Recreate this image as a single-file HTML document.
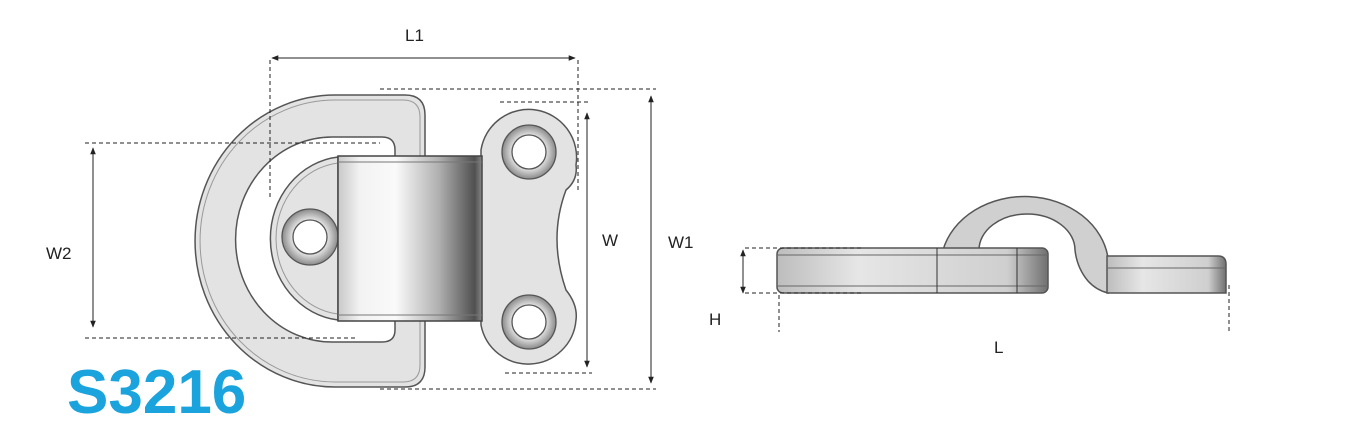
<!DOCTYPE html>
<html><head><meta charset="utf-8"><style>
html,body{margin:0;padding:0;background:#fff;width:1366px;height:432px;overflow:hidden}
svg{display:block}
text{font-family:"Liberation Sans",sans-serif}
</style></head><body>
<svg width="1366" height="432" viewBox="0 0 1366 432" xmlns="http://www.w3.org/2000/svg">
<defs>
<linearGradient id="cyl" x1="0" x2="1" y1="0" y2="0">
<stop offset="0" stop-color="#c8c8c8"/><stop offset="0.15" stop-color="#f2f2f2"/><stop offset="0.4" stop-color="#fafafa"/><stop offset="0.7" stop-color="#b0b0b0"/><stop offset="0.95" stop-color="#505050"/><stop offset="1" stop-color="#888"/>
</linearGradient>
<linearGradient id="bar" x1="0" x2="1" y1="0" y2="0">
<stop offset="0" stop-color="#bdbdbd"/><stop offset="0.3" stop-color="#e6e6e6"/><stop offset="0.85" stop-color="#cfcfcf"/><stop offset="1" stop-color="#707070"/>
</linearGradient>
<radialGradient id="ring"><stop offset="0.6" stop-color="#e8e8e8"/><stop offset="1" stop-color="#8a8a8a"/></radialGradient>
<marker id="ar" viewBox="0 0 10 10" refX="9" refY="5" markerWidth="7" markerHeight="7" orient="auto-start-reverse"><path d="M0,1 L10,5 L0,9 z" fill="#222"/></marker>
</defs>

<path d="M335,95 L405,95 Q425,95 425,115 L425,367 Q425,387 405,387 L335,387 A140,146 0 0 1 335,95 Z" fill="#e3e3e3" stroke="#555" stroke-width="1.5"/>
<path d="M335,100 L403,100 Q420,100 420,117 L420,365 Q420,382 403,382 L335,382 A135,141 0 0 1 335,100 Z" fill="none" stroke="#999" stroke-width="1"/>
<path d="M332,137 L382,137 Q395,137 395,150 L395,330 Q395,342 382,342 L332,342 A96,102 0 0 1 332,137 Z" fill="#fff" stroke="#555" stroke-width="1.5"/>
<path d="M338,157 L338,320 A76,82 0 0 1 338,157 Z" fill="#e3e3e3" stroke="#555" stroke-width="1.5"/>
<path d="M338,163 L338,314 A70,76 0 0 1 338,163 Z" fill="none" stroke="#999" stroke-width="1"/>
<circle cx="310" cy="237" r="28" fill="url(#ring)" stroke="#555" stroke-width="1.3"/>
<circle cx="310" cy="237" r="17" fill="#fff" stroke="#555" stroke-width="1.3"/>
<path d="M481,150 A48,48 0 0 1 576,165 Q578,180 566,190 Q548,238 566,290 Q578,305 576,320 A48,48 0 0 1 481,325 Z" fill="#e3e3e3" stroke="#555" stroke-width="1.5"/>
<circle cx="529" cy="152" r="27" fill="url(#ring)" stroke="#555" stroke-width="1.3"/>
<circle cx="529" cy="152" r="17" fill="#fff" stroke="#555" stroke-width="1.3"/>
<circle cx="529" cy="322" r="27" fill="url(#ring)" stroke="#555" stroke-width="1.3"/>
<circle cx="529" cy="322" r="17" fill="#fff" stroke="#555" stroke-width="1.3"/>
<rect x="338" y="156" width="144" height="165" fill="url(#cyl)" stroke="#444" stroke-width="1.5"/>
<line x1="338" y1="162" x2="482" y2="162" stroke="#777"/>
<line x1="338" y1="315" x2="482" y2="315" stroke="#777"/>

<g stroke="#222" stroke-width="1" fill="none" stroke-dasharray="4,3">
<line x1="270" y1="60" x2="270" y2="200"/>
<line x1="578" y1="60" x2="578" y2="192"/>
<line x1="85" y1="143" x2="380" y2="143"/>
<line x1="85" y1="338" x2="355" y2="338"/>
<line x1="500" y1="102" x2="590" y2="102"/>
<line x1="505" y1="373" x2="592" y2="373"/>
<line x1="380" y1="89" x2="656" y2="89"/>
<line x1="380" y1="389" x2="656" y2="389"/>
</g>
<g stroke="#222" stroke-width="1" marker-start="url(#ar)" marker-end="url(#ar)">
<line x1="272" y1="58" x2="575" y2="58"/>
<line x1="93" y1="148" x2="93" y2="327"/>
<line x1="587" y1="113" x2="587" y2="367"/>
<line x1="651" y1="96" x2="651" y2="383"/>
<line x1="743" y1="250" x2="743" y2="293"/>
</g>
<g font-size="17" fill="#222">
<text x="405" y="41">L1</text>
<text x="46" y="259">W2</text>
<text x="602" y="246">W</text>
<text x="668" y="248">W1</text>
<text x="709" y="325">H</text>
<text x="994" y="353">L</text>
</g>

<path d="M943,250 A84,70 0 0 1 1108,258 L1108,293 Q1096,290 1088,281 Q1077,268 1075,250 A48,36 0 0 0 979,250 Z" fill="#d0d0d0" stroke="#555" stroke-width="1.5"/>
<rect x="777" y="248" width="271" height="45" rx="6" fill="url(#bar)" stroke="#555" stroke-width="1.5"/>
<line x1="777" y1="255" x2="1048" y2="255" stroke="#666"/>
<line x1="777" y1="286" x2="1048" y2="286" stroke="#666"/>
<line x1="937" y1="248" x2="937" y2="293" stroke="#333"/>
<line x1="1017" y1="248" x2="1017" y2="293" stroke="#333"/>
<path d="M1107,256 L1218,256 Q1226,256 1226,264 L1226,293 L1107,293 Z" fill="url(#bar)" stroke="#555" stroke-width="1.5"/>
<line x1="1107" y1="268" x2="1226" y2="268" stroke="#666"/>
<g stroke="#222" stroke-width="1" stroke-dasharray="4,3">
<line x1="745" y1="248" x2="862" y2="248"/>
<line x1="745" y1="293" x2="862" y2="293"/>
<line x1="779" y1="295" x2="779" y2="332"/>
<line x1="1229" y1="285" x2="1229" y2="332"/>
</g>

<text x="67" y="413" font-size="62" font-weight="bold" fill="#1aa3dc">S3216</text>
</svg>
</body></html>
